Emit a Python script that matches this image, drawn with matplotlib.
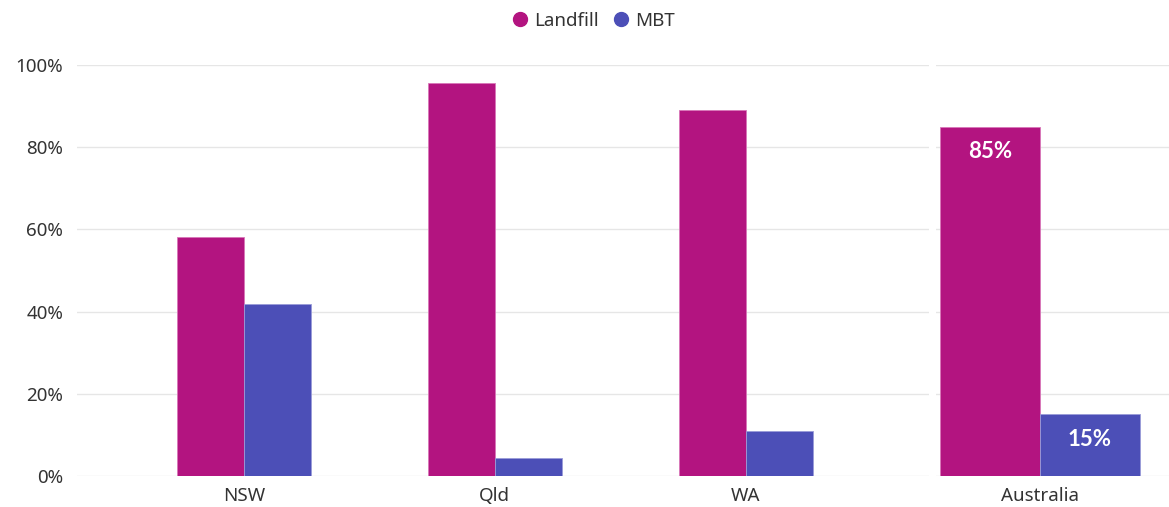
import matplotlib
matplotlib.use("Agg")
import matplotlib.pyplot as plt
from matplotlib.lines import Line2D
import numpy as np

plt.rcParams['font.family'] = ['Noto Sans', 'DejaVu Sans']

states = ["NSW", "Qld", "WA"]
landfill_states = [58.2, 95.6, 89.0]
mbt_states = [41.8, 4.4, 11.0]

national = ["Australia"]
landfill_national = [85]
mbt_national = [15]

yticks = [0, 20, 40, 60, 80, 100]
ytick_labels = ["0%", "20%", "40%", "60%", "80%", "100%"]

LANDFILL = "#B31480"
MBT = "#4C4FB7"
GRID = "#E6E6E6"
TEXT = "#333333"

fig = plt.figure(figsize=(11.69, 5.07), dpi=100)
y0 = 1 - 476 / 507
y1 = 1 - 65 / 507
ax1 = fig.add_axes([77 / 1169, y0, (929 - 77) / 1169, y1 - y0])
ax2 = fig.add_axes([936 / 1169, y0, (1169 - 936) / 1169, y1 - y0])


def style(ax, show_y):
    ax.set_ylim(0, 100)
    ax.set_yticks(yticks)
    for s in ax.spines.values():
        s.set_visible(False)
    ax.grid(axis="y", color=GRID, linewidth=1)
    ax.set_axisbelow(True)
    ax.tick_params(length=0, labelsize=13.5, colors=TEXT)
    ax.tick_params(axis="x", pad=8)
    ax.tick_params(axis="y", pad=10)
    if show_y:
        ax.set_yticklabels(ytick_labels)
    else:
        ax.set_yticklabels([])


# State-level comparison
w1 = 0.267
x1 = np.arange(len(states))
ax1.bar(x1 - w1 / 2, landfill_states, w1, color=LANDFILL,
        edgecolor="#D877B8", linewidth=0.6)
ax1.bar(x1 + w1 / 2, mbt_states, w1, color=MBT,
        edgecolor="#9A9CD8", linewidth=0.6)
ax1.set_xticks(x1)
ax1.set_xticklabels(states)
ax1.set_xlim(-0.665, 2.73)
style(ax1, True)

# National total with value labels
w2 = 0.4
x2 = np.arange(len(national))
b_l = ax2.bar(x2 - w2 / 2, landfill_national, w2, color=LANDFILL,
              edgecolor="#D877B8", linewidth=0.6)
b_m = ax2.bar(x2 + w2 / 2, mbt_national, w2, color=MBT,
              edgecolor="#9A9CD8", linewidth=0.6)
ax2.set_xticks(x2)
ax2.set_xticklabels(national)
ax2.set_xlim(-0.416, 0.516)
style(ax2, False)

for bars, vals in ((b_l, landfill_national), (b_m, mbt_national)):
    for rect, v in zip(bars, vals):
        ax2.annotate(f"{v}%", (rect.get_x() + rect.get_width() / 2, v),
                     xytext=(0, -18), textcoords="offset points",
                     ha="center", va="center", color="white",
                     fontsize=16, fontweight="bold",
                     family=["Lato", "DejaVu Sans"])

handles = [
    Line2D([], [], marker="o", linestyle="none", markersize=10,
           markerfacecolor=LANDFILL, markeredgecolor=LANDFILL, label="Landfill"),
    Line2D([], [], marker="o", linestyle="none", markersize=10,
           markerfacecolor=MBT, markeredgecolor=MBT, label="MBT"),
]
fig.legend(handles=handles, loc="center", bbox_to_anchor=(0.503, 1 - 21 / 507),
           ncol=2, frameon=False, fontsize=13.5, handletextpad=-0.25,
           columnspacing=0.2, labelcolor=TEXT)

fig.savefig("out.png", dpi=100)
